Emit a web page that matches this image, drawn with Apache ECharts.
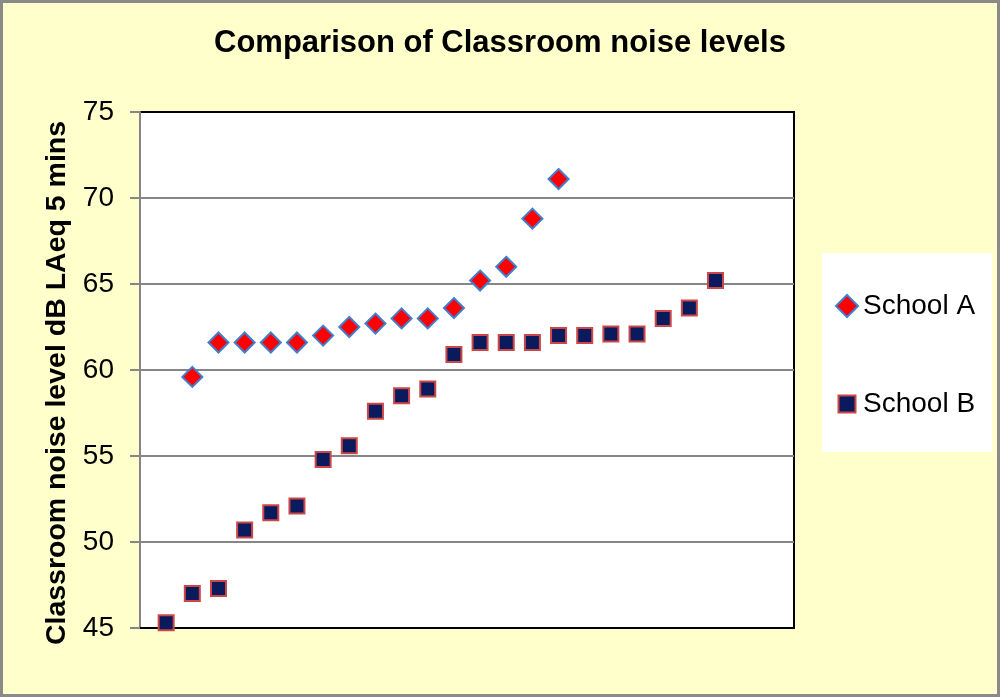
<!DOCTYPE html>
<html>
<head>
<meta charset="utf-8">
<script src="https://cdn.jsdelivr.net/npm/echarts@6/dist/echarts.min.js"></script>
<style>
  html, body { margin: 0; padding: 0; background: #FFFFCC; }
  #chart { width: 1000px; height: 697px; }
</style>
</head>
<body>
<div id="chart"></div>
<script>
// Category positions 0..25 (x axis, labels hidden)
const categories = ['0','1','2','3','4','5','6','7','8','9','10','11','12','13','14','15','16','17','18','19','20','21','22','23','24','25'];
// School A: positions 2..16
const schoolA = [null, null, 59.6, 61.6, 61.6, 61.6, 61.6, 62.0, 62.5, 62.7, 63.0, 63.0, 63.6, 65.2, 66.0, 68.8, 71.1, null, null, null, null, null, null, null, null, null];
// School B: positions 1..22
const schoolB = [null, 45.3, 47.0, 47.3, 50.7, 51.7, 52.1, 54.8, 55.6, 57.6, 58.5, 58.9, 60.9, 61.6, 61.6, 61.6, 62.0, 62.0, 62.1, 62.1, 63.0, 63.6, 65.2, null, null, null];
const yTicks = [45, 50, 55, 60, 65, 70, 75];

const FONT = '"Liberation Sans", Arial, sans-serif';
const chart = echarts.init(document.getElementById('chart'), null, { renderer: 'canvas' });

chart.setOption({
  backgroundColor: '#FFFFCC',
  animation: false,
  title: {
    text: 'Comparison of Classroom noise levels',
    left: 'center',
    top: 23,
    textStyle: { fontFamily: FONT, fontSize: 31, fontWeight: 'bold', color: '#000' }
  },
  graphic: [{
    type: 'rect',
    shape: { x: 1.5, y: 1.5, width: 997, height: 694 },
    style: { fill: null, stroke: '#8a8a8a', lineWidth: 3 },
    silent: true,
    z: 100
  }],
  legend: {
    orient: 'vertical',
    left: 822,
    top: 253,
    backgroundColor: '#ffffff',
    padding: [39, 17, 34, 13],
    itemGap: 70,
    itemWidth: 22,
    itemHeight: 22,
    textStyle: { fontFamily: FONT, fontSize: 28, color: '#000' },
    data: [
      { name: 'School A', icon: 'diamond' },
      { name: 'School B', icon: 'path://M0,0M22,22M2.5,2.5h17v17h-17z' }
    ]
  },
  grid: {
    left: 140,
    right: 206,
    top: 112,
    bottom: 69,
    show: true,
    backgroundColor: '#ffffff',
    borderColor: '#000000',
    borderWidth: 2
  },
  xAxis: {
    type: 'category',
    data: categories,
    boundaryGap: false,
    axisLine: { show: true, lineStyle: { color: '#000', width: 2 } },
    axisTick: { show: false },
    axisLabel: { show: false },
    splitLine: { show: false }
  },
  yAxis: {
    type: 'value',
    min: yTicks[0],
    max: yTicks[yTicks.length - 1],
    interval: 5,
    name: 'Classroom noise level dB LAeq 5 mins',
    nameLocation: 'middle',
    nameRotate: 90,
    nameGap: 65,
    nameTextStyle: { fontFamily: FONT, fontSize: 28.5, fontWeight: 'bold', color: '#000', padding: [0, 26, 0, 0] },
    axisLine: { show: true, lineStyle: { color: '#868686', width: 2 } },
    axisTick: { show: true, length: 10, lineStyle: { color: '#868686', width: 2 } },
    axisLabel: { fontFamily: FONT, fontSize: 28, color: '#000', margin: 26 },
    splitLine: { show: true, showMaxLine: false, showMinLine: false, lineStyle: { color: '#868686', width: 2 } }
  },
  series: [
    {
      name: 'School A',
      type: 'scatter',
      data: schoolA,
      symbol: 'diamond',
      symbolSize: 20,
      itemStyle: { color: '#FF0000', borderColor: '#3F7FCF', borderWidth: 2, opacity: 1 },
      z: 3
    },
    {
      name: 'School B',
      type: 'scatter',
      data: schoolB,
      symbol: 'rect',
      symbolSize: 15,
      itemStyle: { color: '#0A1A5C', borderColor: '#CC4848', borderWidth: 2, opacity: 1 },
      z: 2
    }
  ]
});
</script>
</body>
</html>
